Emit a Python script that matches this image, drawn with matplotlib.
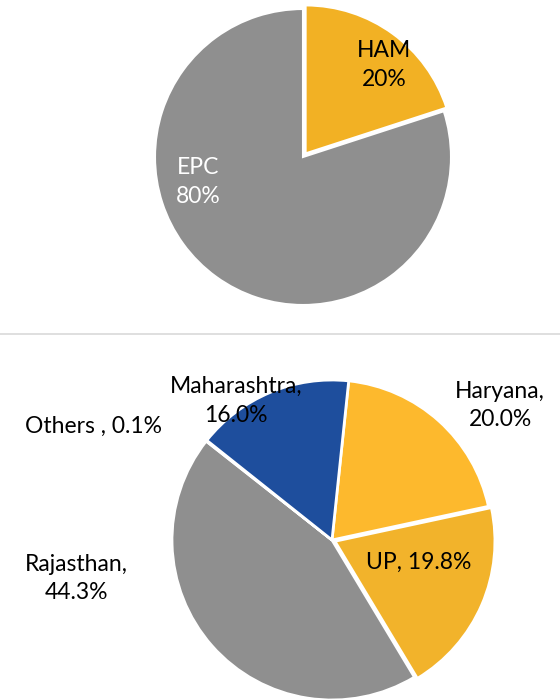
import matplotlib
matplotlib.use('Agg')
from matplotlib import pyplot as plt

plt.rcParams['font.family'] = ['Lato', 'DejaVu Sans']

# top pie: project mode
mode_labels = ['HAM', 'EPC']
mode_share = [20, 80]
mode_colors = ['#F2B124', '#8F8F8F']
mode_text_colors = ['black', 'white']
mode_text_pos = [(0.55, 0.62), (-0.71, -0.17)]

# bottom pie: state split
state_labels = ['Haryana', 'UP', 'Rajasthan', 'Others ', 'Maharashtra']
state_share = [20.0, 19.8, 44.3, 0.1, 16.0]
state_colors = ['#FDB92D', '#F2B32B', '#8F8F8F', '#F8CBAD', '#1E4E9D']
state_text_pos = [(1.05, 0.84), (0.54, -0.14), (-1.6, -0.24), (-1.49, 0.71), (-0.6, 0.87)]

W, H = 560, 699
fig = plt.figure(figsize=(W / 100, H / 100), dpi=100)


def make_ax(cx, cy, r):
    # pixel centre / radius -> axes in figure fractions
    return fig.add_axes([(cx - r) / W, (H - cy - r) / H, 2 * r / W, 2 * r / H])


ax1 = make_ax(303, 157, 148)
ax1.pie(mode_share, colors=mode_colors, startangle=90, counterclock=False,
        explode=[0.03, 0], wedgeprops=dict(edgecolor='white', linewidth=1.5))
ax1.set_xlim(-1, 1)
ax1.set_ylim(-1, 1)
for lab, val, c, (x, y) in zip(mode_labels, mode_share, mode_text_colors, mode_text_pos):
    ax1.text(x, y, '%s\n%d%%' % (lab, val), color=c, ha='center', va='center',
             fontsize=16.5, linespacing=1.45)

# separator line
fig.add_artist(plt.Line2D([0, 1], [1 - 334 / H, 1 - 334 / H], color='#D9D9D9', linewidth=1.2))

ax2 = make_ax(332, 540, 160)
ax2.pie(state_share, colors=state_colors, startangle=84, counterclock=False,
        explode=[0, 0.02, 0, 0, 0], wedgeprops=dict(edgecolor='white', linewidth=2))
ax2.set_xlim(-1, 1)
ax2.set_ylim(-1, 1)
for lab, val, (x, y) in zip(state_labels, state_share, state_text_pos):
    if lab in ('UP', 'Others '):
        txt = '%s, %.1f%%' % (lab, val)
    else:
        txt = '%s,\n%.1f%%' % (lab, val)
    ax2.text(x, y, txt, ha='center', va='center', fontsize=16.5, linespacing=1.45,
             clip_on=False)

plt.savefig('out.png', dpi=100)
plt.close()
